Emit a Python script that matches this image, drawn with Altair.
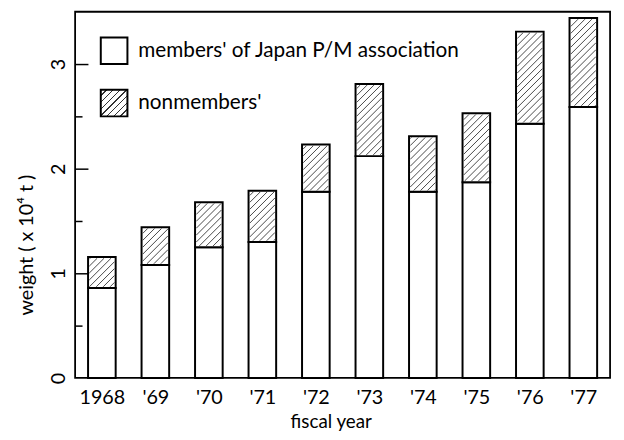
import json
import altair as alt
import pandas as pd

years = ["1968", "'69", "'70", "'71", "'72", "'73", "'74", "'75", "'76", "'77"]
members = [0.86, 1.08, 1.25, 1.30, 1.78, 2.12, 1.78, 1.87, 2.43, 2.59]
totals = [1.155, 1.44, 1.68, 1.79, 2.23, 2.81, 2.31, 2.53, 3.31, 3.44]
series = ["members' of Japan P/M association", "nonmembers'"]
y_ticks = [0, 1, 2, 3]
major_ticks = [1, 2, 3]
minor_ticks = [0.5, 1.5, 2.5]

W, H = 542, 371
X_DOM = [-0.5, len(years) - 0.5]
Y_DOM = [0, 3.5]
HW = 0.258  # half bar width in band units
FONT = "Lato"

idx = list(range(len(years)))
mem_df = pd.DataFrame({"i": idx, "lo": [0.0] * len(idx), "hi": members})
non_df = pd.DataFrame({"i": idx, "lo": members, "hi": totals})
leg_df = pd.DataFrame({"i": [0, 0], "lo": [0.0, 0.0], "hi": [0.0, 0.0], "s": series})

# hatch segments (45 degree lines) clipped to each nonmember rectangle
sx = W / (X_DOM[1] - X_DOM[0])
sy = H / (Y_DOM[1] - Y_DOM[0])
step = 7.0
inset = 1.2
segs = []
for i, m, t in zip(idx, members, totals):
    X0 = (i - HW) * sx + inset
    X1 = (i + HW) * sx - inset
    Y0 = m * sy + inset
    Y1 = t * sy - inset
    k0 = int((Y0 - X1) // step) - 1
    k1 = int((Y1 - X0) // step) + 1
    for k in range(k0, k1 + 1):
        c = k * step
        lo = max(X0, Y0 - c)
        hi = min(X1, Y1 - c)
        if hi - lo > 0.5:
            segs.append({"xa": lo / sx, "xb": hi / sx, "ya": (lo + c) / sy, "yb": (hi + c) / sy})
hatch_df = pd.DataFrame(segs)

label_expr = "[" + ",".join('"' + y + '"' for y in years) + "][datum.value]"
x_axis = alt.Axis(values=idx, labelExpr=label_expr, ticks=False, domain=False, grid=False,
                  labelFontSize=20, labelPadding=10, title="fiscal year", titleFontSize=19,
                  titleFontWeight="normal", titleX=259, titleY=44, titleBaseline="middle")
x_scale = alt.Scale(domain=X_DOM, nice=False, zero=False)
y_scale = alt.Scale(domain=Y_DOM, nice=False)

stops = []
n = 8
for k in range(n):
    a = k / n
    b = (k + 0.78) / n
    c = (k + 1) / n
    stops += [{"offset": a, "color": "white"}, {"offset": b, "color": "white"},
              {"offset": b, "color": "#333333"}, {"offset": c, "color": "#333333"}]
hatch_grad = {"gradient": "linear", "x1": 0, "y1": 0, "x2": 1, "y2": 1, "stops": stops}

fill_legend = alt.Fill(
    "s:N",
    scale=alt.Scale(domain=series, range=["white", {"expr": json.dumps(hatch_grad)}]),
    legend=alt.Legend(title=None, orient="top-left", offset=25, padding=0,
                      symbolType="square", symbolSize=729, symbolStrokeColor="black",
                      symbolStrokeWidth=2, symbolOpacity=1, labelFontSize=21, labelOffset=10,
                      rowPadding=18, labelFont=FONT, labelColor="black", labelLimit=0),
)

bar_mark = dict(stroke="black", strokeWidth=2, fill="white")

mem = alt.Chart(mem_df).mark_bar(**bar_mark).encode(
    x=alt.X("x0:Q", scale=x_scale, axis=x_axis),
    x2="x1:Q",
    y=alt.Y("lo:Q", scale=y_scale, axis=alt.Axis(values=y_ticks, orient="left", ticks=False, domain=False,
                                                  grid=False, labelAngle=270, labelAlign="center",
                                                  labelBaseline="bottom", labelFontSize=20, labelPadding=7,
                                                  title="weight ( x 10⁴ t )", titleFontSize=20,
                                                  titleFontWeight="normal", titleX=-49, titleY=236,
                                                  titleBaseline="middle", titleAlign="center", titleAngle=270)),
    y2="hi:Q",
).transform_calculate(x0=f"datum.i - {HW}", x1=f"datum.i + {HW}")

non = alt.Chart(non_df).mark_bar(**bar_mark).encode(
    x=alt.X("x0:Q", scale=x_scale, axis=x_axis),
    x2="x1:Q",
    y=alt.Y("lo:Q", scale=y_scale, axis=alt.Axis(values=major_ticks, orient="left", offset=-13, tickSize=13,
                                                  tickWidth=1.5, tickColor="black", labels=False, domain=False,
                                                  grid=False, title=None)),
    y2="hi:Q",
).transform_calculate(x0=f"datum.i - {HW}", x1=f"datum.i + {HW}")

hatch = alt.Chart(hatch_df).mark_rule(color="#333333", strokeWidth=0.9).encode(
    x=alt.X("xa:Q", scale=x_scale, axis=x_axis),
    x2="xb:Q",
    y=alt.Y("ya:Q", scale=y_scale, axis=alt.Axis(values=minor_ticks, orient="left", offset=-7, tickSize=7,
                                                  tickWidth=1.5, tickColor="black", labels=False, domain=False,
                                                  grid=False, title=None)),
    y2="yb:Q",
)

legend_layer = alt.Chart(leg_df).mark_bar(stroke="black", strokeWidth=2).encode(
    x=alt.X("x0:Q", scale=x_scale, axis=x_axis),
    x2="x1:Q",
    y=alt.Y("lo:Q", scale=y_scale, axis=None),
    y2="hi:Q",
    fill=fill_legend,
).transform_calculate(x0="datum.i", x1="datum.i").transform_filter("datum.hi > 1")

chart = alt.layer(mem, non, hatch, legend_layer).resolve_axis(y="independent").properties(
    width=W, height=H,
    autosize=alt.AutoSizeParams(type="none"),
    padding={"left": 68, "top": 1, "right": 6, "bottom": 52},
).configure_view(stroke="black", strokeWidth=1.8).configure_axis(
    labelFont=FONT, titleFont=FONT, labelColor="black", titleColor="black"
)

chart.save("out.html", embed_options={"renderer": "svg", "actions": False})
